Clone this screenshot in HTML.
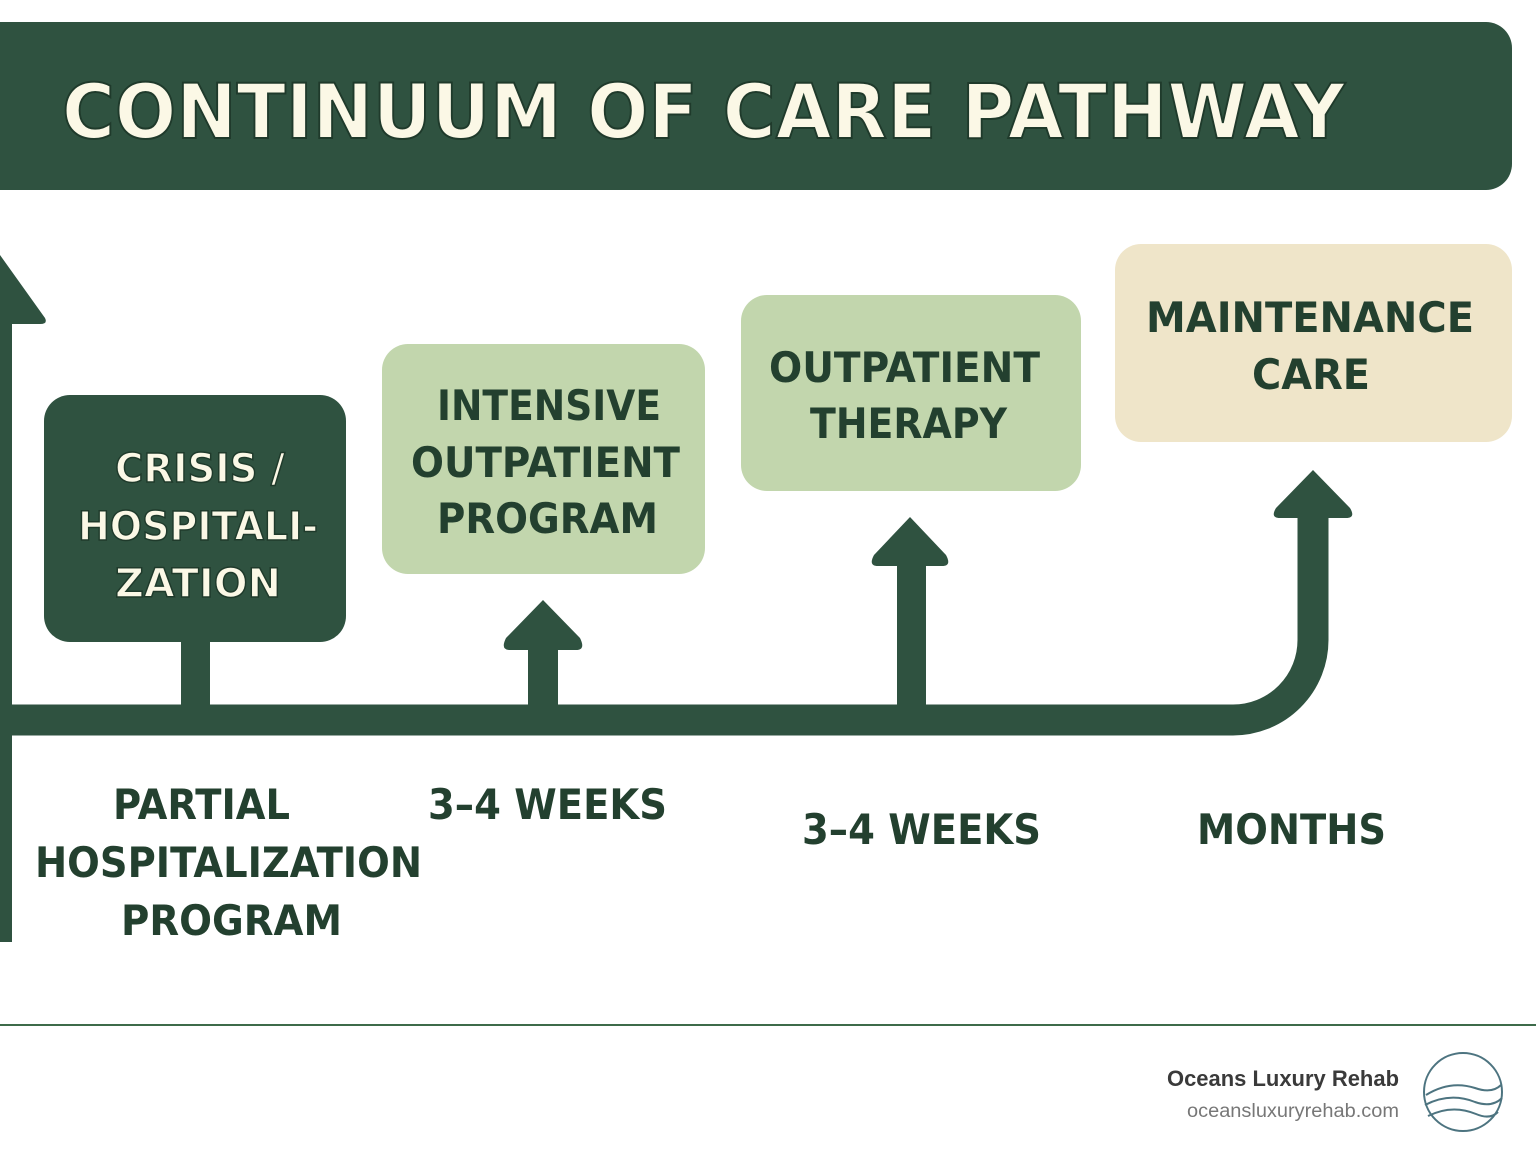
<!DOCTYPE html>
<html><head><meta charset="utf-8"><style>
html,body{margin:0;padding:0;background:#fff;width:1536px;height:1154px;overflow:hidden}
svg{display:block}
text{font-family:"DejaVu Sans","Liberation Sans",sans-serif;font-weight:bold}
</style></head><body>
<svg width="1536" height="1154" viewBox="0 0 1536 1154">
<rect x="-30" y="22" width="1542" height="168" rx="26" fill="#2f5240"/>
<text x="62" y="138" font-size="76" fill="#fbf8e6" stroke="#1f3a2b" stroke-width="2" textLength="1283" lengthAdjust="spacingAndGlyphs">CONTINUUM OF CARE PATHWAY</text>

<rect x="0" y="300" width="12" height="642" fill="#2f5240"/>
<path d="M-30 322 L0 255 L45 318 Q48 324 40 324 L-30 324 Z" fill="#2f5240"/>

<path d="M0 720 H1233 A80 80 0 0 0 1313 640 V515" fill="none" stroke="#2f5240" stroke-width="31"/>
<path d="M1313 470 L1350 508 Q1356 518 1346 518 L1280 518 Q1270 518 1276 508 Z" fill="#2f5240"/>

<rect x="181" y="640" width="29" height="66" fill="#2f5240"/>
<rect x="44" y="395" width="302" height="247" rx="26" fill="#2f5240"/>
<g font-size="40" fill="#fbf8e6" stroke="#1f3a2b" stroke-width="1.5" lengthAdjust="spacingAndGlyphs">
<text x="115" y="482" textLength="170" lengthAdjust="spacingAndGlyphs">CRISIS /</text>
<text x="78" y="540" textLength="240" lengthAdjust="spacingAndGlyphs">HOSPITALI-</text>
<text x="115" y="597" textLength="166" lengthAdjust="spacingAndGlyphs">ZATION</text>
</g>

<rect x="528" y="648" width="30" height="58" fill="#2f5240"/>
<path d="M543 600 L580 638 Q586 650 576 650 L510 650 Q500 650 506 638 Z" fill="#2f5240"/>
<rect x="382" y="344" width="323" height="230" rx="26" fill="#c2d6ad"/>
<g font-size="42" fill="#23402f">
<text x="437" y="420" textLength="224" lengthAdjust="spacingAndGlyphs">INTENSIVE</text>
<text x="411" y="477" textLength="269" lengthAdjust="spacingAndGlyphs">OUTPATIENT</text>
<text x="437" y="533" textLength="221" lengthAdjust="spacingAndGlyphs">PROGRAM</text>
</g>

<rect x="897" y="564" width="29" height="142" fill="#2f5240"/>
<path d="M910 517 L946 555 Q952 566 942 566 L878 566 Q868 566 874 555 Z" fill="#2f5240"/>
<rect x="741" y="295" width="340" height="196" rx="26" fill="#c2d6ad"/>
<g font-size="42" fill="#23402f">
<text x="769" y="382" textLength="271" lengthAdjust="spacingAndGlyphs">OUTPATIENT</text>
<text x="810" y="438" textLength="197" lengthAdjust="spacingAndGlyphs">THERAPY</text>
</g>

<rect x="1115" y="244" width="397" height="198" rx="26" fill="#efe5c9"/>
<g font-size="42" fill="#23402f">
<text x="1146" y="332" textLength="328" lengthAdjust="spacingAndGlyphs">MAINTENANCE</text>
<text x="1252" y="389" textLength="118" lengthAdjust="spacingAndGlyphs">CARE</text>
</g>

<g font-size="42" fill="#23402f">
<text x="113" y="819" textLength="177" lengthAdjust="spacingAndGlyphs">PARTIAL</text>
<text x="35" y="877" textLength="387" lengthAdjust="spacingAndGlyphs">HOSPITALIZATION</text>
<text x="121" y="935" textLength="221" lengthAdjust="spacingAndGlyphs">PROGRAM</text>
<text x="428" y="819" textLength="239" lengthAdjust="spacingAndGlyphs">3–4 WEEKS</text>
<text x="802" y="844" textLength="239" lengthAdjust="spacingAndGlyphs">3–4 WEEKS</text>
<text x="1197" y="844" textLength="189" lengthAdjust="spacingAndGlyphs">MONTHS</text>
</g>

<line x1="0" y1="1025" x2="1536" y2="1025" stroke="#3d6b4a" stroke-width="2"/>
<text x="1167" y="1086" font-size="22" fill="#3a3a3a" textLength="232" lengthAdjust="spacingAndGlyphs" style="font-family:'Liberation Sans',sans-serif">Oceans Luxury Rehab</text>
<text x="1187" y="1117" font-size="19" fill="#777" textLength="212" lengthAdjust="spacingAndGlyphs" style="font-family:'Liberation Sans',sans-serif;font-weight:normal">oceansluxuryrehab.com</text>
<g fill="none" stroke="#4d7480" stroke-width="2">
<circle cx="1463" cy="1092" r="39"/>
<path d="M1426 1095 Q1450 1080 1475 1088 Q1492 1094 1501 1085"/>
<path d="M1425 1105 Q1450 1092 1475 1102 Q1492 1108 1502 1098"/>
<path d="M1428 1116 Q1452 1104 1476 1114 Q1490 1120 1498 1112"/>
</g>
</svg>
</body></html>
